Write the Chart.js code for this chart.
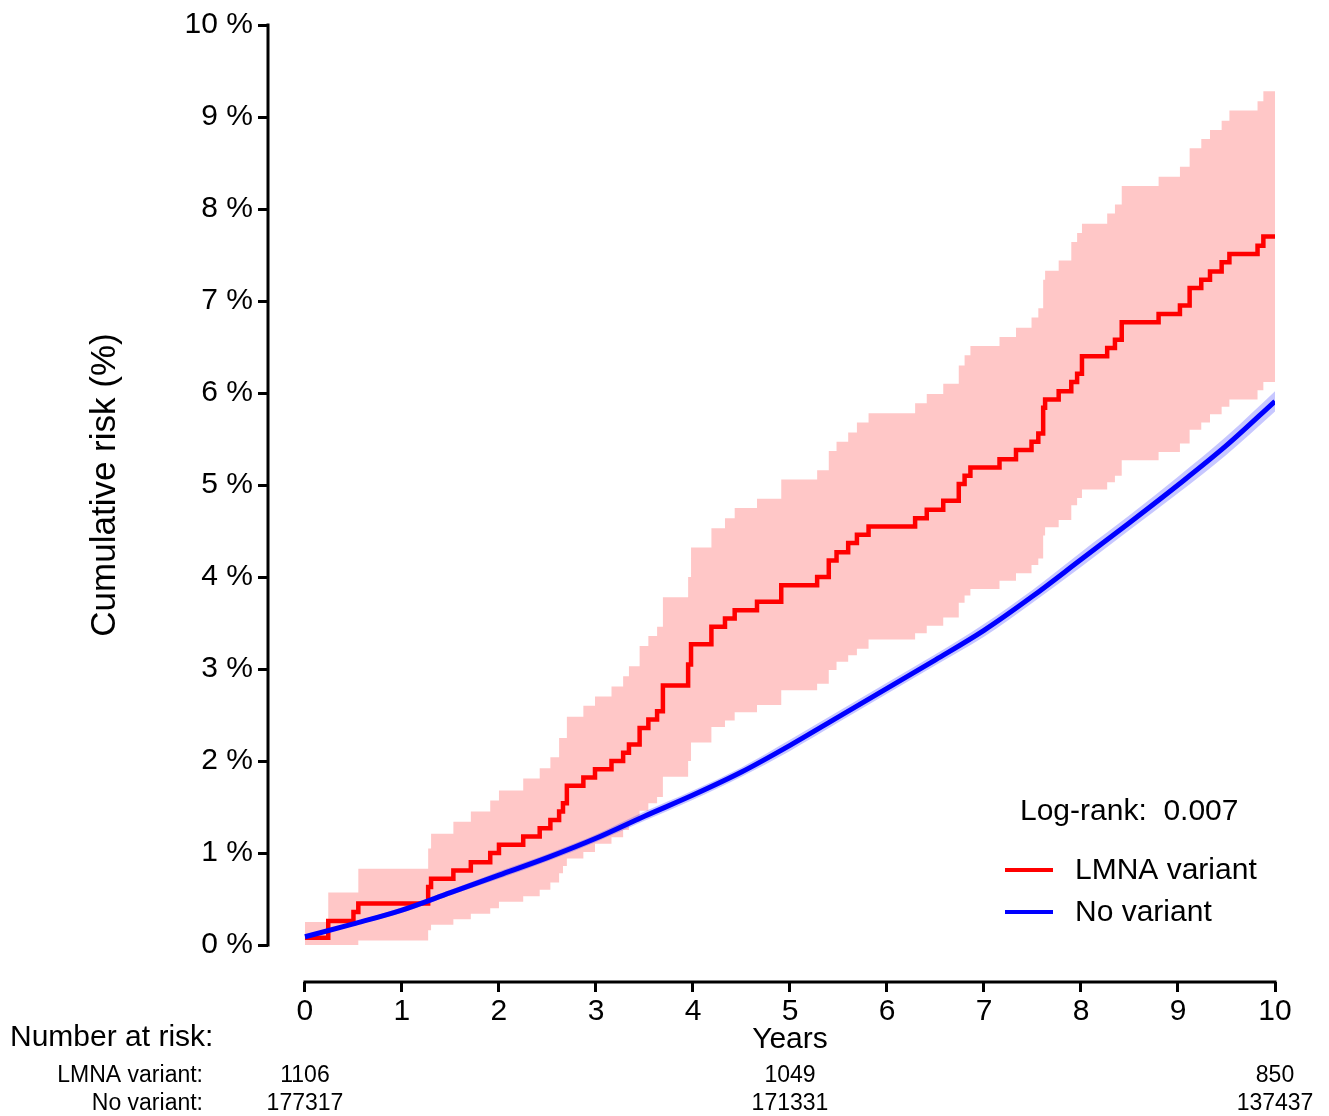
<!DOCTYPE html>
<html>
<head>
<meta charset="utf-8">
<script src="https://cdn.jsdelivr.net/npm/chart.js@4.4.1/dist/chart.umd.min.js"></script>
<style>
  html, body { margin: 0; padding: 0; background: #fff; }
  canvas { display: block; }
</style>
</head>
<body>
<canvas id="kmChart" width="1329" height="1116"></canvas>
<script>
// Kaplan-Meier style cumulative risk
var xTicks = [0, 1, 2, 3, 4, 5, 6, 7, 8, 9, 10];
var yTicks = [0, 1, 2, 3, 4, 5, 6, 7, 8, 9, 10];

// LMNA variant: step times (years) and cumulative risk (%) with CI
var lmnaTimes = [0, 0.24, 0.50, 0.55, 1.27, 1.30, 1.53, 1.71, 1.91, 2.00, 2.25, 2.42, 2.53, 2.62, 2.66, 2.70,
  2.87, 2.99, 3.16, 3.28, 3.34, 3.45, 3.54, 3.63, 3.69, 3.95, 3.98, 4.19, 4.33, 4.43, 4.66, 4.91, 5.28, 5.40,
  5.48, 5.60, 5.69, 5.81, 6.29, 6.41, 6.58, 6.74, 6.80, 6.86, 7.16, 7.33, 7.49, 7.56, 7.61, 7.63, 7.77, 7.90,
  7.96, 8.01, 8.27, 8.35, 8.42, 8.80, 9.02, 9.12, 9.24, 9.33, 9.45, 9.53, 9.82, 9.88, 10.0];
var lmnaRisk = [0.08, 0.26, 0.36, 0.45, 0.63, 0.72, 0.81, 0.90, 1.00, 1.09, 1.18, 1.27, 1.36, 1.45, 1.54, 1.73,
  1.82, 1.91, 2.00, 2.09, 2.18, 2.36, 2.45, 2.54, 2.82, 3.05, 3.27, 3.46, 3.55, 3.64, 3.73, 3.91, 4.00, 4.18,
  4.27, 4.37, 4.46, 4.55, 4.64, 4.73, 4.83, 5.01, 5.10, 5.19, 5.28, 5.38, 5.47, 5.56, 5.84, 5.93, 6.02, 6.12,
  6.21, 6.40, 6.49, 6.58, 6.77, 6.86, 6.95, 7.14, 7.23, 7.32, 7.42, 7.51, 7.60, 7.70, 7.70];
var lmnaUpper = [0.25, 0.57, 0.57, 0.83, 1.05, 1.21, 1.34, 1.45, 1.57, 1.68, 1.81, 1.92, 2.04, 2.25, 2.25, 2.48,
  2.60, 2.70, 2.81, 2.92, 3.03, 3.25, 3.36, 3.46, 3.78, 4.00, 4.32, 4.53, 4.64, 4.75, 4.85, 5.06, 5.16, 5.37,
  5.47, 5.57, 5.68, 5.78, 5.89, 5.99, 6.10, 6.30, 6.41, 6.51, 6.61, 6.71, 6.82, 6.92, 7.23, 7.33, 7.44, 7.64,
  7.74, 7.84, 7.95, 8.05, 8.25, 8.35, 8.46, 8.66, 8.76, 8.86, 8.96, 9.07, 9.17, 9.28, 9.28];
var lmnaLower = [0.00, 0.00, 0.00, 0.05, 0.16, 0.22, 0.28, 0.34, 0.40, 0.47, 0.53, 0.60, 0.68, 0.78, 0.86, 0.94,
  1.01, 1.10, 1.17, 1.25, 1.34, 1.46, 1.54, 1.61, 1.83, 2.00, 2.20, 2.37, 2.44, 2.53, 2.61, 2.77, 2.84, 2.99,
  3.08, 3.15, 3.22, 3.32, 3.39, 3.47, 3.56, 3.72, 3.80, 3.87, 3.96, 4.04, 4.13, 4.20, 4.45, 4.54, 4.62, 4.78,
  4.86, 4.95, 5.03, 5.10, 5.27, 5.36, 5.45, 5.60, 5.68, 5.77, 5.85, 5.93, 6.03, 6.12, 6.12];

// No variant: smooth curve with narrow CI
var noneTimes = [0, 0.5, 1, 1.5, 2, 2.5, 3, 3.5, 4, 4.5, 5, 5.5, 6, 6.5, 7, 7.5, 8, 8.5, 9, 9.5, 10];
var noneRisk  = [0.09, 0.23, 0.38, 0.57, 0.76, 0.95, 1.16, 1.40, 1.63, 1.88, 2.17, 2.48, 2.79, 3.10, 3.42, 3.79, 4.19, 4.59, 5.00, 5.43, 5.91];
var noneUpper = [0.11, 0.25, 0.41, 0.60, 0.80, 0.99, 1.20, 1.45, 1.68, 1.93, 2.23, 2.54, 2.85, 3.16, 3.49, 3.86, 4.27, 4.67, 5.09, 5.53, 6.02];
var noneLower = [0.07, 0.21, 0.35, 0.54, 0.72, 0.91, 1.12, 1.35, 1.58, 1.83, 2.11, 2.42, 2.73, 3.04, 3.35, 3.72, 4.11, 4.51, 4.91, 5.33, 5.80];

// number at risk table
var riskYears = [0, 5, 10];
var riskLmna = [1106, 1049, 850];
var riskNone = [177317, 171331, 137437];

var FONT = '"Liberation Sans", Arial, Helvetica, sans-serif';

function pts(xs, ys) {
  return xs.map(function (x, i) { return { x: x, y: ys[i] }; });
}

// axis lines, titles, legend and risk table
var extras = {
  id: 'extras',
  afterDraw: function (chart) {
    var c = chart.ctx;
    var xs = chart.scales.x, ys = chart.scales.y;
    var area = chart.chartArea;
    c.save();
    c.strokeStyle = '#000';
    c.lineWidth = 3;
    c.beginPath();
    c.moveTo(area.left, ys.getPixelForValue(0) + 1.5);
    c.lineTo(area.left, ys.getPixelForValue(10) - 1.5);
    c.moveTo(xs.getPixelForValue(0) - 1.5, area.bottom);
    c.lineTo(xs.getPixelForValue(10) + 1.5, area.bottom);
    c.stroke();

    c.fillStyle = '#000';
    c.textBaseline = 'middle';

    // y title
    c.save();
    c.translate(105, (ys.getPixelForValue(0) + ys.getPixelForValue(10)) / 2);
    c.rotate(-Math.PI / 2);
    c.textAlign = 'center';
    c.font = '35px ' + FONT;
    c.fillText('Cumulative risk (%)', 0, 0);
    c.restore();

    // x title
    c.textAlign = 'center';
    c.font = '30px ' + FONT;
    c.fillText('Years', xs.getPixelForValue(5), 1040);

    // log-rank and legend
    c.textAlign = 'left';
    c.fillText('Log-rank:  0.007', 1020, 812);
    c.fillText('LMNA variant', 1075, 871);
    c.fillText('No variant', 1075, 913);
    c.lineWidth = 4;
    c.strokeStyle = '#ff0000';
    c.beginPath(); c.moveTo(1005, 870); c.lineTo(1053, 870); c.stroke();
    c.strokeStyle = '#0000ff';
    c.beginPath(); c.moveTo(1005, 912); c.lineTo(1053, 912); c.stroke();

    // number at risk
    c.fillText('Number at risk:', 10, 1038);
    c.font = '23px ' + FONT;
    c.textAlign = 'right';
    c.fillText('LMNA variant:', 203, 1076);
    c.fillText('No variant:', 203, 1104);
    c.textAlign = 'center';
    riskYears.forEach(function (yr, i) {
      var px = xs.getPixelForValue(yr);
      c.fillText(String(riskLmna[i]), px, 1076);
      c.fillText(String(riskNone[i]), px, 1104);
    });
    c.restore();
  }
};

new Chart(document.getElementById('kmChart'), {
  type: 'line',
  data: {
    datasets: [
      { label: 'No variant', data: pts(noneTimes, noneRisk), borderColor: '#0000ff', borderWidth: 5,
        cubicInterpolationMode: 'monotone', pointRadius: 0, fill: false },
      { label: 'LMNA variant', data: pts(lmnaTimes, lmnaRisk), borderColor: '#ff0000', borderWidth: 4.5,
        stepped: true, pointRadius: 0, fill: false },
      { label: 'none upper', data: pts(noneTimes, noneUpper), borderWidth: 0, borderColor: 'rgba(0,0,0,0)',
        cubicInterpolationMode: 'monotone', pointRadius: 0, fill: '+1', backgroundColor: 'rgba(0,0,255,0.22)' },
      { label: 'none lower', data: pts(noneTimes, noneLower), borderWidth: 0, borderColor: 'rgba(0,0,0,0)',
        cubicInterpolationMode: 'monotone', pointRadius: 0, fill: false },
      { label: 'lmna upper', data: pts(lmnaTimes, lmnaUpper), borderWidth: 0, borderColor: 'rgba(0,0,0,0)',
        stepped: true, pointRadius: 0, fill: '+1', backgroundColor: 'rgba(255,0,0,0.22)' },
      { label: 'lmna lower', data: pts(lmnaTimes, lmnaLower), borderWidth: 0, borderColor: 'rgba(0,0,0,0)',
        stepped: true, pointRadius: 0, fill: false }
    ]
  },
  options: {
    responsive: false,
    animation: false,
    layout: { padding: { top: 25, right: 54, left: 0, bottom: 0 } },
    scales: {
      x: {
        type: 'linear', min: -0.381, max: 10,
        afterFit: function (s) { s.height = 134; },
        afterBuildTicks: function (s) { s.ticks = xTicks.map(function (v) { return { value: v }; }); },
        ticks: { color: '#000', font: { family: FONT, size: 30 }, padding: 2, maxRotation: 0, autoSkip: false },
        grid: { drawOnChartArea: false, color: '#000', tickLength: 10, lineWidth: 3 },
        border: { display: false }
      },
      y: {
        type: 'linear', min: -0.402, max: 10,
        afterFit: function (s) { s.width = 268; },
        afterBuildTicks: function (s) { s.ticks = yTicks.map(function (v) { return { value: v }; }); },
        ticks: { color: '#000', font: { family: FONT, size: 30 }, padding: 5, autoSkip: false,
          callback: function (v) { return v + ' %'; } },
        grid: { drawOnChartArea: false, color: '#000', tickLength: 10, lineWidth: 3 },
        border: { display: false }
      }
    },
    plugins: {
      legend: { display: false },
      tooltip: { enabled: false },
      filler: { drawTime: 'beforeDatasetsDraw' }
    }
  },
  plugins: [extras]
});
</script>
</body>
</html>
